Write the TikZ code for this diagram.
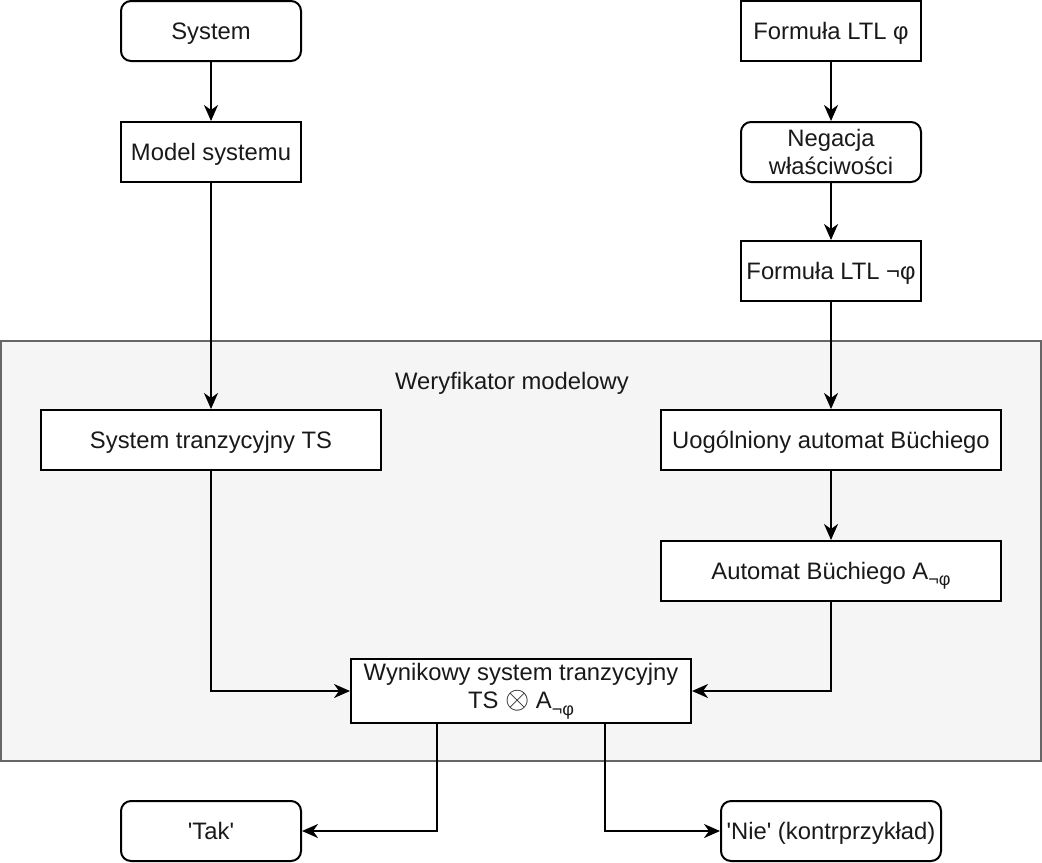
\documentclass[tikz,border=0pt]{standalone}
\usepackage{fontspec}
\setmainfont{Liberation Sans}[Ligatures=TeXOff]
\usetikzlibrary{arrows.meta}
\newcommand{\negphisub}{\raisebox{-0.5ex}{\fontsize{9}{10}\selectfont ¬φ}}
\newcommand{\otimessym}{\raisebox{0.05ex}{\scalebox{1.3}{$\otimes$}}}
\tikzset{
  base/.style={draw=black, line width=1pt, fill=white, align=center,
    font=\fontsize{11.9}{14.2}\selectfont, inner sep=2pt, minimum height=30pt,
    text=black!90},
  oneline/.style={text height=9.6pt, text depth=1.4pt},
  sqbox/.style={base, oneline},
  rbox/.style={base, oneline, rounded corners=5pt},
  sqbox2/.style={base},
  rbox2/.style={base, rounded corners=5pt},
  arr/.style={line width=1pt, draw=black, -{Stealth[length=8pt,width=7pt,inset=2.5pt]}},
  container/.style={draw=black!60, fill=black!4, line width=0.8pt},
}
\begin{document}
\begin{tikzpicture}[x=0.5pt,y=-0.5pt]
\useasboundingbox (0,0) rectangle (1042,862);
\fill[white] (0,0) rectangle (1042,862);
\draw[container] (1,341) rectangle (1041,761);
\node[font=\fontsize{11.9}{13.8}\selectfont, text=black!90, oneline] (title) at (512,381) {Weryfikator modelowy};

\node[rbox, minimum width=90pt] (sys) at (211,31) {System};
\node[sqbox, minimum width=90pt] (model) at (211,152) {Model systemu};
\node[sqbox, minimum width=90pt] (ltl) at (831,31) {Formuła LTL φ};
\node[rbox2, minimum width=90pt] (neg) at (831,152) {Negacja\\właściwości};
\node[sqbox, minimum width=90pt] (nltl) at (831,271) {Formuła LTL ¬φ};
\node[sqbox, minimum width=170pt] (ts) at (211,440) {System tranzycyjny TS};
\node[sqbox, minimum width=170pt] (gba) at (831,440) {Uogólniony automat Büchiego};
\node[sqbox, minimum width=170pt] (ba) at (831,571) {Automat Büchiego A\negphisub};
\node[sqbox2, minimum width=170pt] (res) at (521,691) {Wynikowy system tranzycyjny\\TS \otimessym\ A\negphisub};
\node[rbox, minimum width=90pt] (tak) at (211,831) {'Tak'};
\node[rbox, minimum width=110pt] (nie) at (831,831) {'Nie' (kontrprzykład)};

\draw[arr] (sys) -- (model);
\draw[arr] (model) -- (ts);
\draw[arr] (ltl) -- (neg);
\draw[arr] (neg) -- (nltl);
\draw[arr] (nltl) -- (gba);
\draw[arr] (gba) -- (ba);
\draw[arr] (ts.south) |- (res.west);
\draw[arr] (ba.south) |- (res.east);
\draw[arr] ([xshift=-42pt]res.south) |- (tak.east);
\draw[arr] ([xshift=42pt]res.south) |- (nie.west);
\end{tikzpicture}
\end{document}
